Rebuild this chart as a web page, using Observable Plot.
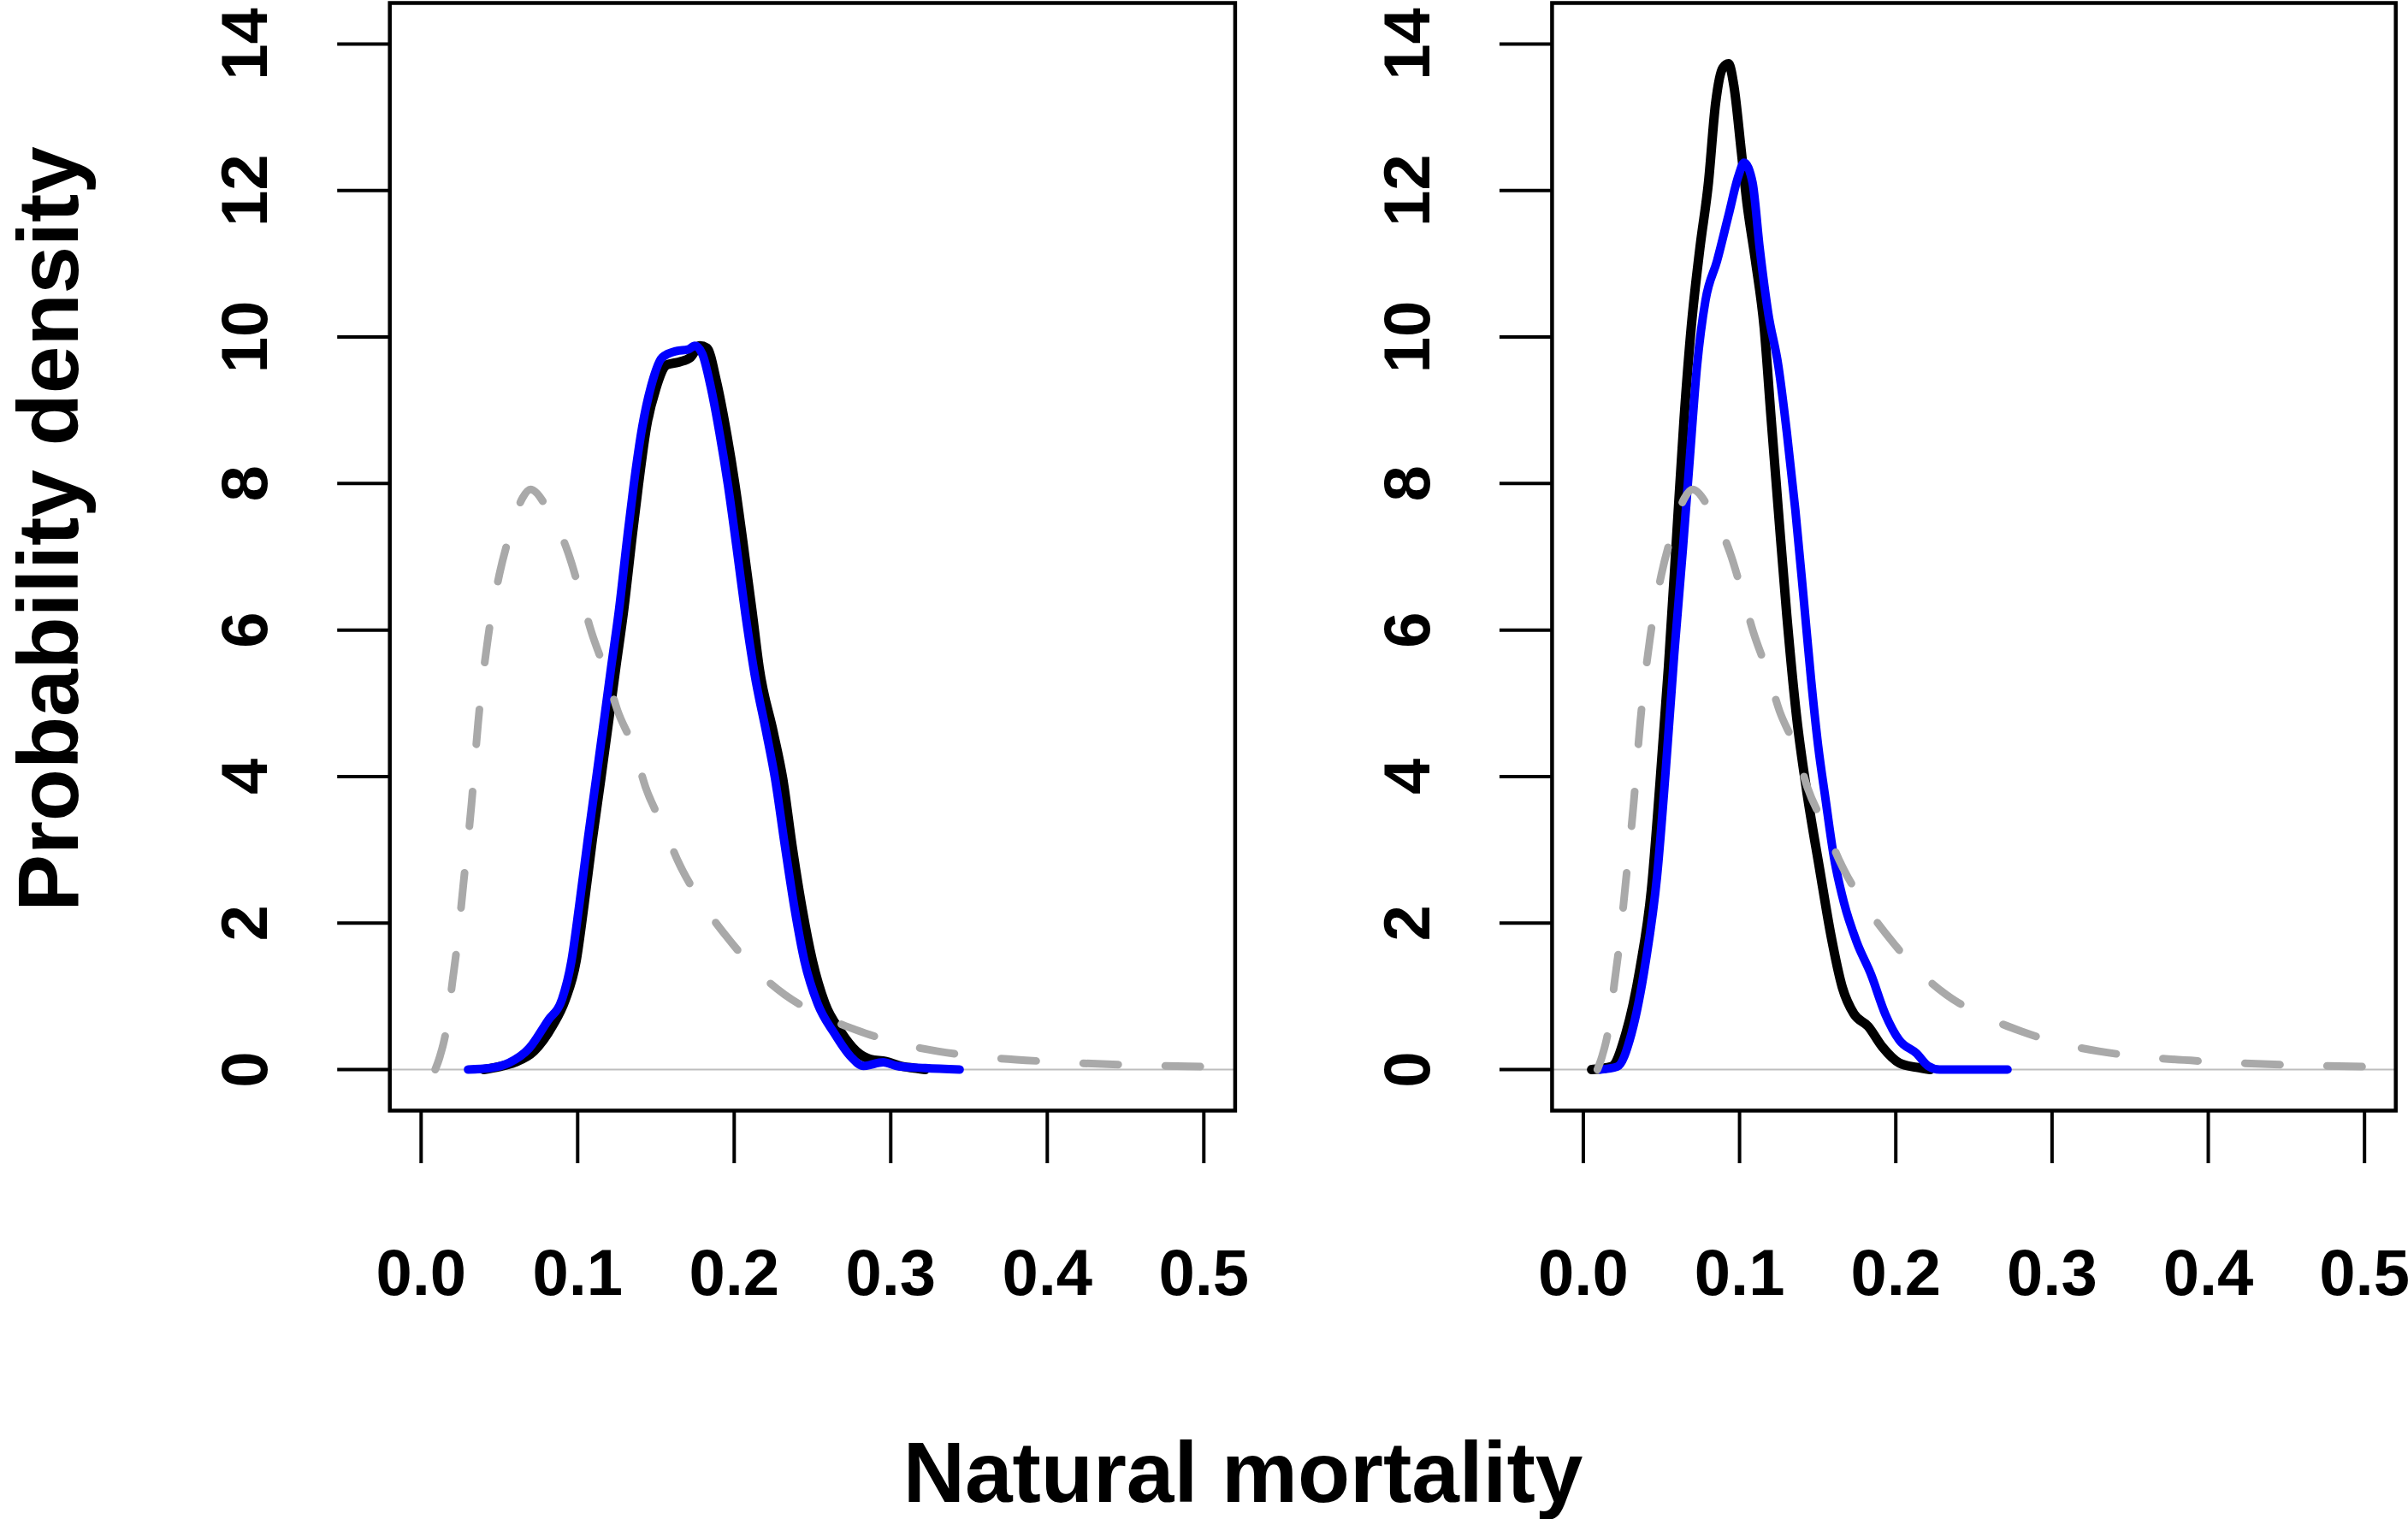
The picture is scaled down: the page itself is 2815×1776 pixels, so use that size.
<!DOCTYPE html>
<html>
<head>
<meta charset="utf-8">
<script src="https://cdn.jsdelivr.net/npm/d3@7"></script>
<script src="https://cdn.jsdelivr.net/npm/@observablehq/plot@0.6"></script>
<style>
  html, body { margin: 0; padding: 0; background: white; overflow: hidden; }
  #wrap { position: relative; width: 2815px; height: 1776px; background: white; }
  #left { position: absolute; left: 0; top: 0; }
  #right { position: absolute; left: 1460px; top: 0; }
  #xtitle { position: absolute; left: 753px; width: 1400px; top: 1671px; text-align: center;
            font-family: "Liberation Sans", Arial, sans-serif; font-weight: bold; font-size: 100px; line-height: 100px; color: black; }
</style>
</head>
<body>
<div id="wrap">
  <div id="left"></div>
  <div id="right"></div>
  <div id="xtitle">Natural mortality</div>
</div>
<script>
// ---- data ----
const xTicks = [0, 0.1, 0.2, 0.3, 0.4, 0.5];
const yTicks = [0, 2, 4, 6, 8, 10, 12, 14];
const xDomain = [-0.02, 0.52];
const yDomain = [-0.56, 14.56];
const yTitle = "Probability density";

// prior (grey dashed), identical in both panels
const prior = [
  [0.009, 0], [0.012, 0.18], [0.0165, 0.6], [0.0200, 1.2], [0.0228, 1.66], [0.0270, 2.53],
  [0.0322, 3.63], [0.0364, 4.73], [0.0427, 5.89], [0.0500, 6.76], [0.0563, 7.28],
  [0.0647, 7.80], [0.0699, 7.92], [0.0814, 7.63], [0.0940, 7.05], [0.1014, 6.53],
  [0.1087, 5.98], [0.1180, 5.42], [0.1255, 4.90], [0.1360, 4.38], [0.1433, 3.86],
  [0.1548, 3.31], [0.1653, 2.79], [0.1789, 2.29], [0.1946, 1.83], [0.2124, 1.39],
  [0.2324, 1.02], [0.2565, 0.73], [0.2806, 0.52], [0.3067, 0.35], [0.3300, 0.25],
  [0.3600, 0.17], [0.4000, 0.11], [0.4500, 0.065], [0.5000, 0.04], [0.5300, 0.03]
];

// left panel: black posterior
const leftBlack = [
  [0.040, 0], [0.050, 0.04], [0.060, 0.10], [0.072, 0.25], [0.084, 0.60], [0.092, 0.95],
  [0.099, 1.48], [0.104, 2.24], [0.1095, 3.16], [0.1148, 3.97], [0.120, 4.79],
  [0.1243, 5.48], [0.1295, 6.29], [0.1348, 7.28], [0.1388, 7.98], [0.144, 8.78],
  [0.150, 9.30], [0.157, 9.62], [0.165, 9.66], [0.172, 9.72], [0.178, 9.88],
  [0.1826, 9.85], [0.1886, 9.40], [0.1946, 8.75], [0.2005, 7.98], [0.206, 7.13],
  [0.2115, 6.24], [0.216, 5.48], [0.225, 4.60], [0.231, 3.97], [0.237, 3.05],
  [0.2435, 2.18], [0.250, 1.48], [0.258, 0.90], [0.268, 0.52], [0.278, 0.25],
  [0.287, 0.14], [0.297, 0.11], [0.306, 0.05], [0.315, 0.02], [0.322, 0]
];

// left panel: blue posterior
const leftBlue = [
  [0.030, 0], [0.044, 0.02], [0.056, 0.09], [0.069, 0.29], [0.081, 0.67], [0.090, 0.96],
  [0.096, 1.48], [0.101, 2.24], [0.1066, 3.16], [0.1118, 3.97], [0.117, 4.79],
  [0.1213, 5.48], [0.1265, 6.29], [0.1318, 7.28], [0.1358, 7.98], [0.1413, 8.78],
  [0.1468, 9.32], [0.154, 9.72], [0.1632, 9.81], [0.1705, 9.83], [0.175, 9.88],
  [0.1796, 9.77], [0.185, 9.32], [0.1906, 8.69], [0.196, 7.98], [0.2015, 7.13],
  [0.207, 6.24], [0.213, 5.40], [0.2205, 4.60], [0.2261, 3.97], [0.2324, 3.05],
  [0.2387, 2.18], [0.2449, 1.48], [0.2533, 0.90], [0.2638, 0.50], [0.2743, 0.18],
  [0.2826, 0.05], [0.2952, 0.10], [0.3037, 0.05], [0.322, 0.02], [0.344, 0]
];

// right panel: black posterior
const rightBlack = [
  [0.0053, 0], [0.018, 0.04], [0.0272, 0.49], [0.0363, 1.38], [0.0436, 2.46],
  [0.049, 3.89], [0.0545, 5.50], [0.060, 7.37], [0.0645, 8.89], [0.0691, 10.14],
  [0.0746, 11.21], [0.0801, 12.11], [0.0846, 13.18], [0.0892, 13.67], [0.0929, 13.73],
  [0.0965, 13.41], [0.101, 12.56], [0.1047, 11.84], [0.1102, 11.04], [0.1157, 10.14],
  [0.1202, 8.89], [0.1248, 7.64], [0.1302, 6.21], [0.1367, 4.78], [0.143, 3.80],
  [0.1513, 2.73], [0.1585, 1.83], [0.1658, 1.12], [0.1732, 0.76], [0.1823, 0.59],
  [0.1914, 0.31], [0.2023, 0.09], [0.2133, 0.03], [0.222, 0]
];

// right panel: blue posterior
const rightBlue = [
  [0.0107, 0], [0.0217, 0.04], [0.0308, 0.49], [0.0399, 1.47], [0.0472, 2.64],
  [0.0527, 4.07], [0.0582, 5.67], [0.0637, 7.10], [0.0682, 8.36], [0.0728, 9.61],
  [0.0782, 10.50], [0.0856, 11.04], [0.0929, 11.66], [0.0993, 12.20], [0.1029, 12.38],
  [0.1083, 12.11], [0.1129, 11.21], [0.1184, 10.32], [0.1248, 9.61], [0.1302, 8.71],
  [0.1357, 7.64], [0.1412, 6.39], [0.1458, 5.32], [0.1503, 4.42], [0.1549, 3.71],
  [0.1604, 2.90], [0.1668, 2.28], [0.175, 1.74], [0.1841, 1.30], [0.1932, 0.76],
  [0.2023, 0.40], [0.2133, 0.22], [0.2206, 0.05], [0.228, 0], [0.2715, 0]
];

const FONT = '"Liberation Sans", Arial, Helvetica, sans-serif';

function panel({black, blue, width, marginLeft, marginRight, withTitle}) {
  const marks = [
    Plot.ruleY([0], {stroke: "#bebebe", strokeWidth: 2}),
    Plot.line(black, {x: d => d[0], y: d => d[1], stroke: "black", strokeWidth: 11,
      curve: "monotone-x", strokeLinejoin: "round", strokeLinecap: "round", clip: true}),
    Plot.line(blue, {x: d => d[0], y: d => d[1], stroke: "#0000ff", strokeWidth: 10,
      curve: "monotone-x", strokeLinejoin: "round", strokeLinecap: "round", clip: true}),
    Plot.line(prior, {x: d => d[0], y: d => d[1], stroke: "#a9a9a9", strokeWidth: 9,
      curve: "monotone-x", strokeDasharray: "41,55", strokeLinecap: "round", strokeLinejoin: "round", clip: true}),
    Plot.frame({stroke: "black", strokeWidth: 4.5}),
    Plot.axisX({ticks: xTicks, tickSize: 62, tickFormat: () => "", stroke: "black", strokeWidth: 4}),
    Plot.axisY({ticks: yTicks, tickSize: 61, tickFormat: () => "", stroke: "black", strokeWidth: 4}),
    Plot.text(xTicks, {x: d => d, text: d => d3.format(".1f")(d), frameAnchor: "bottom",
      dy: 191, lineAnchor: "middle", textAnchor: "middle", fontSize: 76, fontWeight: "bold", fill: "black"}),
    Plot.text(yTicks, {y: d => d, text: d => String(d), frameAnchor: "left", dx: -168,
      rotate: -90, lineAnchor: "middle", textAnchor: "middle", fontSize: 76, fontWeight: "bold", fill: "black"})
  ];
  if (withTitle) {
    marks.push(Plot.text([yTitle], {text: d => d, frameAnchor: "left", dx: -397, dy: -32.5,
      rotate: -90, lineAnchor: "middle", textAnchor: "middle", fontSize: 100, fontWeight: "bold", fill: "black"}));
  }
  return Plot.plot({
    width, height: 1540,
    marginLeft, marginRight, marginTop: 3, marginBottom: 242,
    style: {fontFamily: FONT, background: "white", overflow: "visible", color: "black"},
    x: {domain: xDomain, nice: false},
    y: {domain: yDomain, nice: false},
    marks
  });
}

document.getElementById("left").appendChild(panel({
  black: leftBlack, blue: leftBlue, width: 1460, marginLeft: 455.2, marginRight: 16.6, withTitle: true
}));
document.getElementById("right").appendChild(panel({
  black: rightBlack, blue: rightBlue, width: 1355, marginLeft: 353.9, marginRight: 14.8, withTitle: false
}));
</script>
</body>
</html>
